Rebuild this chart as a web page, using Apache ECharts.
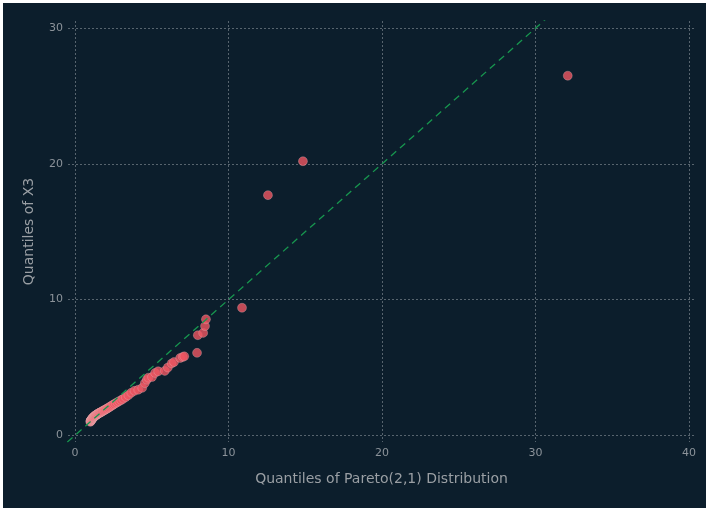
<!DOCTYPE html>
<html>
<head>
<meta charset="utf-8">
<script src="https://cdn.jsdelivr.net/npm/echarts@6/dist/echarts.min.js"></script>
<style>
  html, body { margin: 0; padding: 0; background: #ffffff; }
  #panel { position: absolute; left: 3px; top: 3px; width: 703px; height: 505px; background: #0c1e2c; }
  #chart { position: absolute; left: 0; top: 0; width: 708px; height: 511px; }
</style>
</head>
<body>
<div id="panel"></div>
<div id="chart"></div>
<script>
// Theoretical Pareto(2,1) quantiles (x) against sample quantiles of X3 (y)
const paretoQuantiles = [
  1.00, 1.01, 1.02, 1.03, 1.04, 1.05, 1.06, 1.08, 1.09, 1.10,
  1.12, 1.13, 1.15, 1.16, 1.18, 1.20, 1.21, 1.23, 1.25, 1.27,
  1.29, 1.31, 1.33, 1.35, 1.38, 1.40, 1.43, 1.45, 1.48, 1.51,
  1.54, 1.57, 1.60, 1.64, 1.67, 1.71, 1.75, 1.79, 1.84, 1.88,
  1.93, 1.98, 2.04, 2.10, 2.16, 2.23, 2.30, 2.38, 2.46, 2.55,
  2.65, 2.76, 2.88, 3.01, 3.15, 3.31, 3.48, 3.67, 3.88, 4.12,
  4.38, 4.55, 4.68, 4.78, 5.02, 5.22, 5.42, 5.85, 6.05, 6.30,
  6.45, 6.85, 7.02, 7.12, 7.95, 8.00, 8.35, 8.47, 8.53, 10.88,
  12.57, 14.85, 32.10
];
const x3Quantiles = [
  1.00, 1.03, 1.06, 1.08, 1.10, 1.12, 1.14, 1.16, 1.18, 1.20,
  1.22, 1.24, 1.26, 1.28, 1.30, 1.32, 1.34, 1.36, 1.38, 1.40,
  1.42, 1.44, 1.46, 1.48, 1.50, 1.52, 1.54, 1.56, 1.58, 1.60,
  1.62, 1.64, 1.66, 1.68, 1.70, 1.72, 1.75, 1.78, 1.81, 1.84,
  1.87, 1.90, 1.94, 1.98, 2.02, 2.07, 2.12, 2.18, 2.24, 2.30,
  2.37, 2.44, 2.52, 2.60, 2.70, 2.82, 2.96, 3.14, 3.28, 3.36,
  3.50, 3.85, 4.10, 4.25, 4.30, 4.60, 4.72, 4.75, 5.00, 5.30,
  5.40, 5.70, 5.78, 5.82, 6.08, 7.38, 7.55, 8.05, 8.55, 9.40,
  17.70, 20.20, 26.50
];
const xTicks = [0, 10, 20, 30, 40];
const yTicks = [0, 10, 20, 30];
const refLine = [[-0.5, -0.5], [40.5, 40.5]];

const points = paretoQuantiles.map((q, i) => [q, x3Quantiles[i]]);

const gridStyle = { color: 'rgba(150,158,166,0.55)', width: 1, type: [2, 2] };
const labelStyle = { color: '#8c939a', fontSize: 11, fontFamily: 'DejaVu Sans' };
const titleStyle = { color: '#9a9fa4', fontSize: 14, fontFamily: 'DejaVu Sans' };

const chart = echarts.init(document.getElementById('chart'), null, { renderer: 'canvas' });
chart.setOption({
  backgroundColor: 'transparent',
  animation: false,
  grid: { left: 68, right: 13, top: 21, bottom: 69, containLabel: false },
  xAxis: {
    type: 'value',
    min: -0.456, max: 40.39,
    name: 'Quantiles of Pareto(2,1) Distribution',
    nameLocation: 'middle', nameGap: 30, nameTextStyle: titleStyle,
    axisLine: { show: false },
    axisTick: { show: false, customValues: xTicks },
    axisLabel: Object.assign({ customValues: xTicks, margin: 6 }, labelStyle),
    splitLine: { show: true, lineStyle: gridStyle }
  },
  yAxis: {
    type: 'value',
    min: -0.49, max: 30.53,
    name: 'Quantiles of X3',
    nameLocation: 'middle', nameGap: 32, nameRotate: 90, nameTextStyle: titleStyle,
    axisLine: { show: false },
    axisTick: { show: false, customValues: yTicks },
    axisLabel: Object.assign({ customValues: yTicks, margin: 5 }, labelStyle),
    splitLine: { show: true, lineStyle: gridStyle }
  },
  series: [
    {
      type: 'scatter',
      data: points,
      symbolSize: 9,
      itemStyle: { color: '#ef5663', borderColor: 'rgba(225,200,200,0.45)', borderWidth: 0.8 },
      z: 3
    },
    {
      type: 'line',
      data: refLine,
      showSymbol: false,
      clip: true,
      lineStyle: { color: '#17964f', width: 1.3, type: [7, 5] },
      z: 4
    }
  ]
});
</script>
</body>
</html>
